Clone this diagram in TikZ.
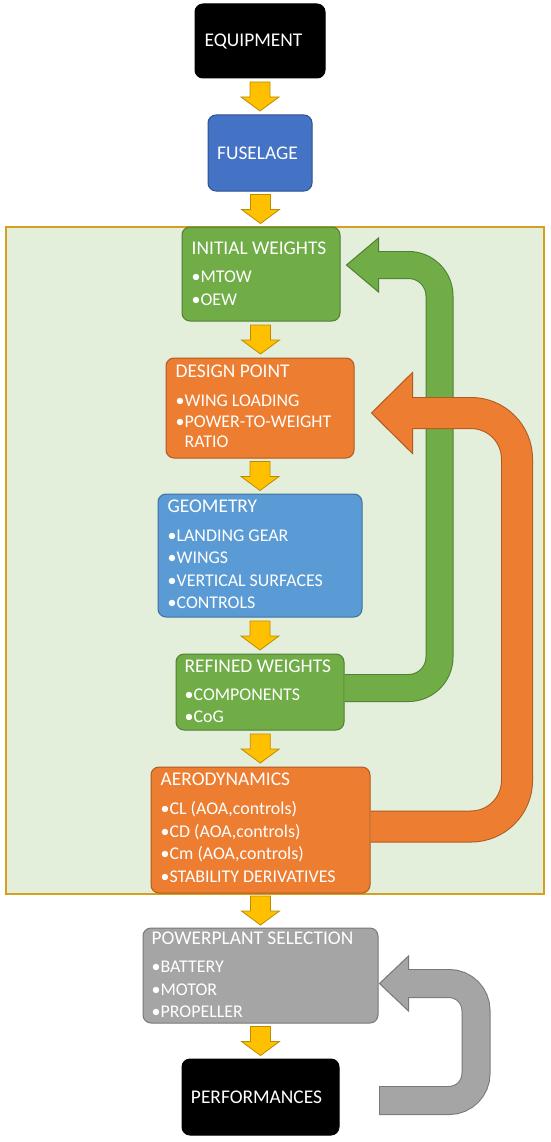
\documentclass[tikz,border=0pt]{standalone}
\usepackage{fontspec}
\setmainfont{Carlito}
\usetikzlibrary{calc}
\definecolor{greenF}{HTML}{70AD47}
\definecolor{greenB}{HTML}{507E32}
\definecolor{orangeF}{HTML}{ED7D31}
\definecolor{orangeB}{HTML}{AE5A21}
\definecolor{blueF}{HTML}{4472C4}
\definecolor{blueB}{HTML}{2F528F}
\definecolor{lblueF}{HTML}{5B9BD5}
\definecolor{lblueB}{HTML}{41719C}
\definecolor{grayF}{HTML}{A5A5A5}
\definecolor{grayB}{HTML}{787878}
\definecolor{yellowF}{HTML}{FFC000}
\definecolor{yellowB}{HTML}{BC8C00}
\definecolor{frameF}{HTML}{E3EFDB}
\definecolor{frameB}{HTML}{D4A01E}
\tikzset{
  box/.style={rectangle, rounded corners=8pt, line width=1pt, inner sep=0pt},
  ttl/.style={text=white, font=\fontsize{19.4}{22}\selectfont, anchor=base west, inner sep=0pt},
  itm/.style={text=white, font=\fontsize{17.9}{21}\selectfont, anchor=base west, inner sep=0pt},
  ctr/.style={text=white, font=\fontsize{19.4}{22}\selectfont, inner sep=0pt},
  yarr/.style={fill=yellowF, draw=yellowB, line width=0.8pt, line join=miter},
}
\newcommand{\blockdown}[2]{%
  \coordinate (m) at ($(#1.south)!0.5!(#2.north)$);
  \filldraw[yarr] ($(m)+(-10,-14.5)$) -- ($(m)+(10,-14.5)$) -- ($(m)+(10,0.5)$) -- ($(m)+(19,0.5)$) -- ($(m)+(0,14.5)$) -- ($(m)+(-19,0.5)$) -- ($(m)+(-10,0.5)$) -- cycle;}
\begin{document}
\begin{tikzpicture}[x=1pt,y=-1pt]
\useasboundingbox (0,0) rectangle (550,1142);
\fill[white] (0,0) rectangle (550,1142);
% frame
\node[draw=frameB, fill=frameF, line width=2pt, minimum width=538pt, minimum height=667pt, inner sep=0pt] (frame) at (275,560.5) {};
% boxes
\node[box, fill=black, draw=black, minimum width=130pt, minimum height=74pt] (eq) at (260,41) {};
\node[ctr] (eqt) at ($(eq.center)+(-6.5,0)$) {EQUIPMENT};
\node[box, fill=blueF, draw=blueB, minimum width=104pt, minimum height=76pt] (fus) at (260,153) {};
\node[ctr] (fust) at ($(fus.center)+(-2.5,0)$) {FUSELAGE};
\node[box, fill=greenF, draw=greenB, minimum width=158pt, minimum height=94pt] (iw) at (261,274) {};
\node[box, fill=orangeF, draw=orangeB, minimum width=188pt, minimum height=100pt] (dp) at (260,408) {};
\node[box, fill=lblueF, draw=lblueB, minimum width=204pt, minimum height=123pt] (geo) at (260,555.5) {};
\node[box, fill=greenF, draw=greenB, minimum width=168pt, minimum height=76pt] (rw) at (260,692) {};
\node[box, fill=orangeF, draw=orangeB, minimum width=219pt, minimum height=126pt] (aero) at (260.5,830) {};
\node[box, fill=grayF, draw=grayB, minimum width=235pt, minimum height=95pt] (pp) at (260.5,975.5) {};
\node[box, fill=black, draw=black, minimum width=157pt, minimum height=76pt] (perf) at (260.5,1097) {};
\node[ctr] (perft) at ($(perf.center)+(-4,0)$) {PERFORMANCES};
% texts
\node[ttl] (iw0) at ($(iw.north west)+(10,28)$) {INITIAL WEIGHTS};
\node[itm] (iw1) at ($(iw.north west)+(10,56)$) {•MTOW};
\node[itm] (iw2) at ($(iw.north west)+(10,79)$) {•OEW};
\node[ttl] (dp0) at ($(dp.north west)+(10,20)$) {DESIGN POINT};
\node[itm] (dp1) at ($(dp.north west)+(10,49)$) {•WING LOADING};
\node[itm] (dp2) at ($(dp.north west)+(10,70)$) {•POWER-TO-WEIGHT};
\node[itm] (dp3) at ($(dp.north west)+(10,90)$) {\phantom{•}RATIO};
\node[ttl] (geo0) at ($(geo.north west)+(10,19)$) {GEOMETRY};
\node[itm] (geo1) at ($(geo.north west)+(10,48)$) {•LANDING GEAR};
\node[itm] (geo2) at ($(geo.north west)+(10,70)$) {•WINGS};
\node[itm] (geo3) at ($(geo.north west)+(10,93)$) {•VERTICAL SURFACES};
\node[itm] (geo4) at ($(geo.north west)+(10,115)$) {•CONTROLS};
\node[ttl] (rw0) at ($(rw.north west)+(9,19)$) {REFINED WEIGHTS};
\node[itm] (rw1) at ($(rw.north west)+(9,47)$) {•COMPONENTS};
\node[itm] (rw2) at ($(rw.north west)+(9,69)$) {•CoG};
\node[ttl] (ae0) at ($(aero.north west)+(10,19)$) {AERODYNAMICS};
\node[itm] (ae1) at ($(aero.north west)+(10,48)$) {•CL (AOA,controls)};
\node[itm] (ae2) at ($(aero.north west)+(10,71)$) {•CD (AOA,controls)};
\node[itm] (ae3) at ($(aero.north west)+(10,93)$) {•Cm (AOA,controls)};
\node[itm] (ae4) at ($(aero.north west)+(10,116)$) {•STABILITY DERIVATIVES};
\node[ttl] (pp0) at ($(pp.north west)+(9,17)$) {POWERPLANT SELECTION};
\node[itm] (pp1) at ($(pp.north west)+(9,45)$) {•BATTERY};
\node[itm] (pp2) at ($(pp.north west)+(9,68)$) {•MOTOR};
\node[itm] (pp3) at ($(pp.north west)+(9,90)$) {•PROPELLER};
% yellow arrows
\blockdown{eq}{fus}
\blockdown{fus}{iw}
\blockdown{iw}{dp}
\blockdown{dp}{geo}
\blockdown{geo}{rw}
\blockdown{rw}{aero}
\blockdown{aero}{pp}
\blockdown{pp}{perf}
% green feedback
\coordinate (gS) at ($(rw.east)+(0,-4)$);
\coordinate (gT) at ($(iw.east)+(6,-9)$);
\coordinate (gX) at (439.5,0);
\coordinate (gB) at ($(gT)+(32,0)$);
\draw[line width=28pt, draw=greenB, rounded corners=31pt] (gS) -- (gS -| gX) -- (gB -| gX) -- (gB);
\filldraw[fill=greenF, draw=greenB, line width=1pt, line join=miter] (gT) -- ($(gB)+(0,-27)$) -- ($(gB)+(0,27)$) -- cycle;
\draw[line width=26pt, draw=greenF, rounded corners=31pt] (gS) -- (gS -| gX) -- (gB -| gX) -- ($(gB)+(-2,0)$);
% orange feedback
\coordinate (oS) at ($(aero.east)+(0,-3.5)$);
\coordinate (oT) at ($(dp.east)+(17,5)$);
\coordinate (oX) at (517,0);
\coordinate (oB) at ($(oT)+(41,0)$);
\draw[line width=32pt, draw=orangeB, rounded corners=46pt] (oS) -- (oS -| oX) -- (oB -| oX) -- (oB);
\filldraw[fill=orangeF, draw=orangeB, line width=1pt, line join=miter] (oT) -- ($(oB)+(0,-40.5)$) -- ($(oB)+(0,40.5)$) -- cycle;
\draw[line width=30pt, draw=orangeF, rounded corners=46pt] (oS) -- (oS -| oX) -- (oB -| oX) -- ($(oB)+(-2,0)$);
% gray feedback
\coordinate (yS) at ($(perf.east)+(40,3.5)$);
\coordinate (yT) at ($(pp.east)+(1,8)$);
\coordinate (yX) at (476,0);
\coordinate (yB) at ($(yT)+(29,0)$);
\draw[line width=29pt, draw=grayB, rounded corners=27pt] (yS) -- (yS -| yX) -- (yB -| yX) -- (yB);
\filldraw[fill=grayF, draw=grayB, line width=1pt, line join=miter] (yT) -- ($(yB)+(0,-27.5)$) -- ($(yB)+(0,27.5)$) -- cycle;
\draw[line width=27pt, draw=grayF, rounded corners=27pt] (yS) -- (yS -| yX) -- (yB -| yX) -- ($(yB)+(-2,0)$);
\draw[grayB, line width=1pt] ($(yS)+(0,-14.5)$) -- ($(yS)+(0,14.5)$);
\end{tikzpicture}
\end{document}
